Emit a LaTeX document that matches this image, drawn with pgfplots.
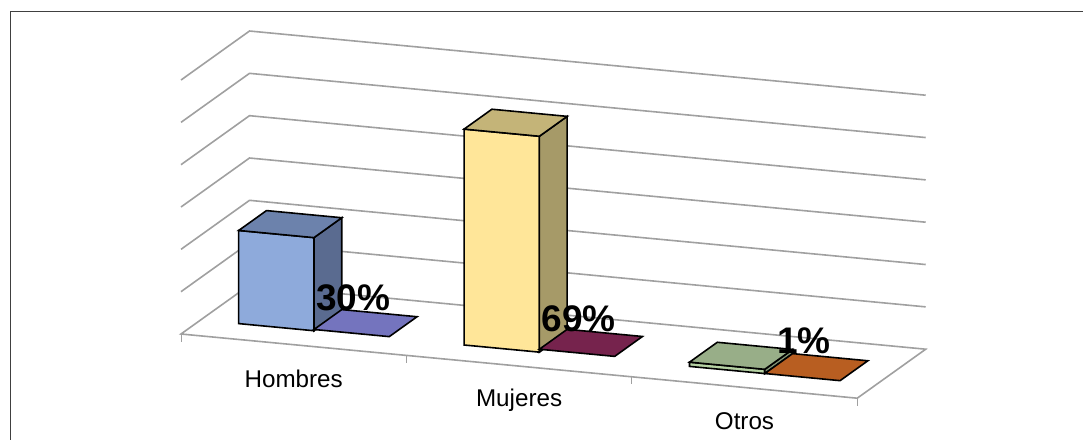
\documentclass[border=0pt]{standalone}
\usepackage{pgfplots}
\pgfplotsset{compat=1.18}
\usepackage{fontspec}
\setmainfont{Liberation Sans}

\definecolor{gridgray}{HTML}{A0A0A0}
\definecolor{framegray}{HTML}{404040}
\definecolor{blueF}{HTML}{8EAADB}
\definecolor{blueT}{HTML}{6C82AC}
\definecolor{blueS}{HTML}{5A6B90}
\definecolor{yellowF}{HTML}{FFE699}
\definecolor{yellowT}{HTML}{C4B478}
\definecolor{yellowS}{HTML}{A69A68}
\definecolor{greenF}{HTML}{B5D1A3}
\definecolor{greenT}{HTML}{98AE88}
\definecolor{greenS}{HTML}{7F9273}
\definecolor{purpleT}{HTML}{7474BE}
\definecolor{plumT}{HTML}{76234D}
\definecolor{orangeT}{HTML}{B85E21}

\pgfplotsset{
  grid seg/.style={gridgray, line width=1.6pt, mark=none, forget plot},
  face/.style={draw=black, line width=1.6pt, line join=miter, mark=none, forget plot},
}

\begin{document}
\begin{tikzpicture}[x=1pt,y=1pt]
\useasboundingbox (0,0) rectangle (1083,439);
\draw[framegray, line width=1.4pt] (10.5,-5) -- (10.5,427.5) -- (1090,427.5);
\begin{axis}[
    anchor=origin,
    at={(181pt,105pt)},
    x={(225.4pt,-21.4pt)},
    y={(68.5pt,49pt)},
    z={(0pt,4.233pt)},
    xmin=0, xmax=3,
    ymin=0, ymax=1,
    zmin=0, zmax=60,
    hide axis,
    clip=false,
  ]
  % walls and floor
  \addplot3[grid seg] coordinates {(0,0,10) (0,1,10) (3,1,10)};
  \addplot3[grid seg] coordinates {(0,0,20) (0,1,20) (3,1,20)};
  \addplot3[grid seg] coordinates {(0,0,30) (0,1,30) (3,1,30)};
  \addplot3[grid seg] coordinates {(0,0,40) (0,1,40) (3,1,40)};
  \addplot3[grid seg] coordinates {(0,0,50) (0,1,50) (3,1,50)};
  \addplot3[grid seg] coordinates {(0,0,60) (0,1,60) (3,1,60)};
  \addplot3[grid seg] coordinates {(0,1,0) (3,1,0) (3,0,0) (0,0,0) (0,1,0)};
  \addplot3[grid seg, line width=1pt] coordinates {(0,0,0) (0,0,-1.8)};
  \addplot3[grid seg, line width=1pt] coordinates {(1,0,0) (1,0,-1.8)};
  \addplot3[grid seg, line width=1pt] coordinates {(2,0,0) (2,0,-1.8)};
  \addplot3[grid seg, line width=1pt] coordinates {(3,0,0) (3,0,-1.8)};

  % Hombres: 22
  \addplot3[face, fill=blueF] coordinates {(0.169,0.286,0) (0.503,0.286,0) (0.503,0.286,22) (0.169,0.286,22) (0.169,0.286,0) (0.503,0.286,0)};
  \addplot3[face, fill=blueS] coordinates {(0.503,0.286,0) (0.503,0.692,0) (0.503,0.692,22) (0.503,0.286,22) (0.503,0.286,0) (0.503,0.692,0)};
  \addplot3[face, fill=blueT] coordinates {(0.169,0.286,22) (0.503,0.286,22) (0.503,0.692,22) (0.169,0.692,22) (0.169,0.286,22) (0.503,0.286,22)};
  \addplot3[face, fill=purpleT] coordinates {(0.503,0.286,0.3) (0.837,0.286,0.3) (0.837,0.692,0.3) (0.503,0.692,0.3) (0.503,0.286,0.3) (0.837,0.286,0.3)};

  % Mujeres: 51
  \addplot3[face, fill=yellowF] coordinates {(1.169,0.286,0) (1.503,0.286,0) (1.503,0.286,51) (1.169,0.286,51) (1.169,0.286,0) (1.503,0.286,0)};
  \addplot3[face, fill=yellowS] coordinates {(1.503,0.286,0) (1.503,0.692,0) (1.503,0.692,51) (1.503,0.286,51) (1.503,0.286,0) (1.503,0.692,0)};
  \addplot3[face, fill=yellowT] coordinates {(1.169,0.286,51) (1.503,0.286,51) (1.503,0.692,51) (1.169,0.692,51) (1.169,0.286,51) (1.503,0.286,51)};
  \addplot3[face, fill=plumT] coordinates {(1.503,0.286,0.69) (1.837,0.286,0.69) (1.837,0.692,0.69) (1.503,0.692,0.69) (1.503,0.286,0.69) (1.837,0.286,0.69)};

  % Otros: 1
  \addplot3[face, fill=greenF] coordinates {(2.169,0.286,0) (2.503,0.286,0) (2.503,0.286,1) (2.169,0.286,1) (2.169,0.286,0) (2.503,0.286,0)};
  \addplot3[face, fill=greenS] coordinates {(2.503,0.286,0) (2.503,0.692,0) (2.503,0.692,1) (2.503,0.286,1) (2.503,0.286,0) (2.503,0.692,0)};
  \addplot3[face, fill=greenT] coordinates {(2.169,0.286,1) (2.503,0.286,1) (2.503,0.692,1) (2.169,0.692,1) (2.169,0.286,1) (2.503,0.286,1)};
  \addplot3[face, fill=orangeT] coordinates {(2.503,0.286,0.01) (2.837,0.286,0.01) (2.837,0.692,0.01) (2.503,0.692,0.01) (2.503,0.286,0.01) (2.837,0.286,0.01)};

  % category names and data labels
  \node[font=\fontsize{24.2}{25}\selectfont] at (axis cs:0.5,0,-8) {Hombres};
  \node[font=\fontsize{24.2}{25}\selectfont] at (axis cs:1.5,0,-8) {Mujeres};
  \node[font=\fontsize{24.2}{25}\selectfont] at (axis cs:2.5,0,-8) {Otros};
  \node[font=\fontsize{37}{37}\bfseries\selectfont, xshift=-13pt, yshift=26pt] at (axis cs:0.67,0.5,0) {30\%};
  \node[font=\fontsize{37}{37}\bfseries\selectfont, xshift=-13pt, yshift=26pt] at (axis cs:1.67,0.5,0) {69\%};
  \node[font=\fontsize{37}{37}\bfseries\selectfont, xshift=-13pt, yshift=26pt] at (axis cs:2.67,0.5,0) {1\%};
\end{axis}
\end{tikzpicture}
\end{document}
